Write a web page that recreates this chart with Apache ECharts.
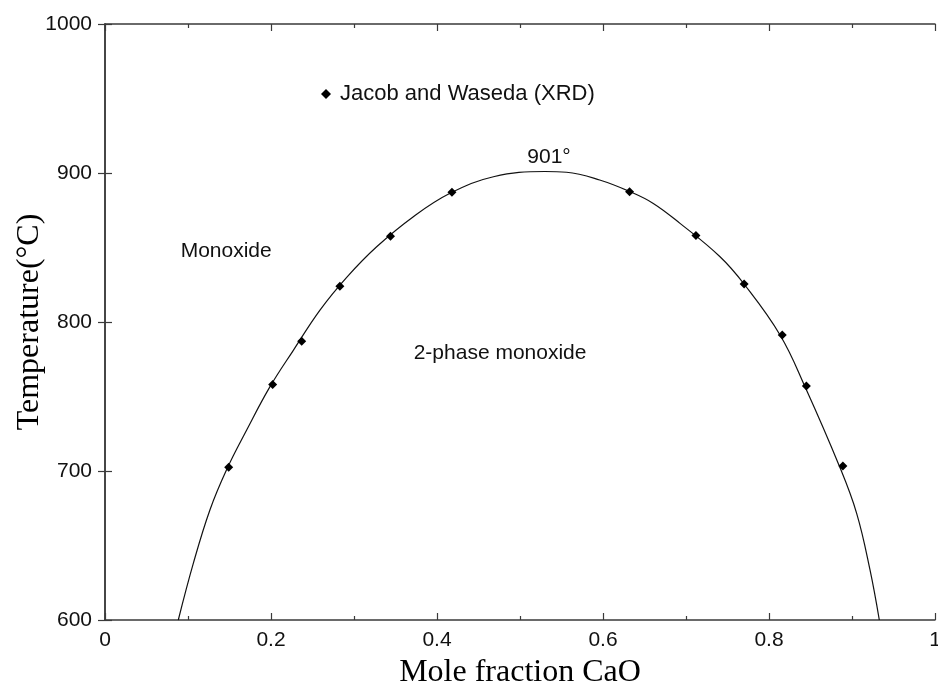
<!DOCTYPE html>
<html>
<head>
<meta charset="utf-8">
<script src="https://cdn.jsdelivr.net/npm/echarts@6/dist/echarts.min.js"></script>
<style>
  html, body { margin: 0; padding: 0; background: #fff; }
  #chart { width: 938px; height: 685px; }
</style>
</head>
<body>
<div id="chart"></div>
<script>
// calculated solvus: [mole fraction CaO, T]
var solvusX = [0.0883, 0.1064, 0.1265, 0.1466, 0.1707, 0.1988, 0.2269, 0.259, 0.2912, 0.3273, 0.3715, 0.4157, 0.468, 0.53, 0.556, 0.596, 0.6325, 0.6606, 0.6928, 0.741, 0.7699, 0.8133, 0.8434, 0.8847, 0.9056, 0.9217, 0.9329]
var solvusT = [600, 638, 674, 701, 727.5, 756.6, 781, 808, 830, 850.5, 870.7, 886.4, 897.5, 901, 900.5, 895.3, 887.5, 879.6, 866.2, 843.8, 825.5, 791.3, 756.6, 703.4, 671.6, 633.6, 600]

// Jacob and Waseda (XRD)
var xrdX = [0.149, 0.202, 0.237, 0.283, 0.344, 0.418, 0.632, 0.712, 0.770, 0.816, 0.845, 0.889]
var xrdT = [702.5, 758, 787, 824, 857.5, 887, 887.5, 858, 825.5, 791.3, 757, 703.4]

// region labels
var labelText = ['Monoxide', '2-phase monoxide', '901°']
var labelX = [0.146, 0.476, 0.535]
var labelT = [847.7, 779.2, 910.7]

var xTicks = [0, 0.2, 0.4, 0.6, 0.8, 1]
var yTicks = [600, 700, 800, 900, 1000]

function zip(a, b) {
    return a.map(function (v, i) { return [v, b[i]] })
}

var sans = '"Liberation Sans", Arial, sans-serif'
var serif = '"Liberation Serif", "Times New Roman", serif'
var axisColor = '#3a3a3a'

var myChart = echarts.init(document.getElementById('chart'))
myChart.setOption({
    backgroundColor: '#fff',
    animation: false,
    grid: {
        left: 105,
        right: 3,
        top: 24,
        bottom: 65,
        containLabel: false,
        outerBoundsMode: 'none'
    },
    legend: {
        left: 321,
        top: 83,
        padding: 0,
        itemWidth: 10,
        itemHeight: 10,
        data: [{ name: 'Jacob and Waseda (XRD)', icon: 'diamond' }],
        textStyle: {
            fontFamily: sans,
            fontSize: 22,
            color: '#111',
            padding: [0, 0, 0, 4]
        }
    },
    xAxis: [{
        type: 'value',
        min: xTicks[0],
        max: xTicks[xTicks.length - 1],
        interval: 0.2,
        name: 'Mole fraction CaO',
        nameLocation: 'middle',
        nameGap: 37,
        nameMoveOverlap: false,
        nameTextStyle: { fontFamily: serif, fontSize: 32, color: '#000' },
        axisLine: { lineStyle: { color: axisColor, width: 1.5 } },
        axisTick: { inside: true, length: 7, lineStyle: { color: axisColor, width: 1.2 } },
        minorTick: { show: true, splitNumber: 2, length: 4, lineStyle: { color: axisColor, width: 1.2 } },
        axisLabel: {
            fontFamily: sans, fontSize: 21, color: '#111', margin: 10,
            formatter: function (v) { return String(+v.toFixed(1)) }
        },
        splitLine: { show: false }
    }, {
        type: 'value',
        position: 'top',
        min: xTicks[0],
        max: xTicks[xTicks.length - 1],
        interval: 0.2,
        axisLine: { lineStyle: { color: axisColor, width: 1.5 } },
        axisTick: { inside: true, length: 7, lineStyle: { color: axisColor, width: 1.2 } },
        minorTick: { show: true, splitNumber: 2, length: 4, lineStyle: { color: axisColor, width: 1.2 } },
        axisLabel: { show: false },
        splitLine: { show: false }
    }],
    yAxis: [{
        type: 'value',
        min: yTicks[0],
        max: yTicks[yTicks.length - 1],
        interval: 100,
        name: 'Temperature(°C)',
        nameLocation: 'middle',
        nameGap: 59,
        nameMoveOverlap: false,
        nameTextStyle: { fontFamily: serif, fontSize: 32, color: '#000' },
        axisLine: { show: true, lineStyle: { color: axisColor, width: 1.5 } },
        axisTick: { show: true, inside: true, length: 7, lineStyle: { color: axisColor, width: 1.2 } },
        axisLabel: {
            fontFamily: sans, fontSize: 21, color: '#111', margin: 13,
            formatter: function (v) { return String(v) }
        },
        splitLine: { show: false }
    }, {
        type: 'value',
        position: 'right',
        min: yTicks[0],
        max: yTicks[yTicks.length - 1],
        interval: 100,
        axisLine: { show: true, lineStyle: { color: axisColor, width: 1.5 } },
        axisTick: { show: true, inside: true, length: 7, lineStyle: { color: axisColor, width: 1.2 } },
        axisLabel: { show: false },
        splitLine: { show: false }
    }],
    series: [{
        name: 'solvus',
        type: 'line',
        smooth: 0.4,
        showSymbol: false,
        data: zip(solvusX, solvusT),
        lineStyle: { color: '#111', width: 1.2 },
        z: 2
    }, {
        name: 'Jacob and Waseda (XRD)',
        type: 'scatter',
        symbol: 'diamond',
        symbolSize: 9,
        itemStyle: { color: '#000', opacity: 1 },
        data: zip(xrdX, xrdT),
        z: 3
    }, {
        name: 'labels',
        type: 'scatter',
        symbolSize: 0,
        silent: true,
        itemStyle: { opacity: 1 },
        data: labelText.map(function (t, i) { return { name: t, value: [labelX[i], labelT[i]] } }),
        label: {
            show: true,
            position: 'inside',
            formatter: '{b}',
            fontFamily: sans,
            fontSize: 21,
            color: '#111'
        }
    }]
})
</script>
</body>
</html>
